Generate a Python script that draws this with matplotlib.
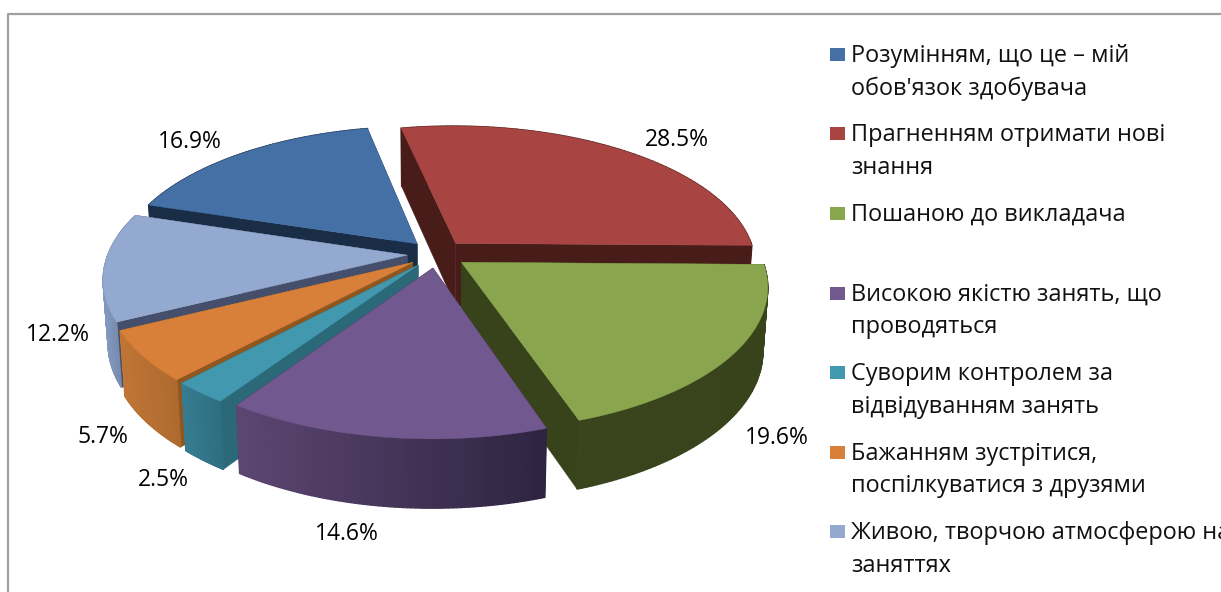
import matplotlib
matplotlib.use("Agg")
import matplotlib.pyplot as plt
import numpy as np
from matplotlib.colors import to_rgb

# Shares in chart order, clockwise from the first slice.
categories = [
    "Розумінням, що це – мій\nобов'язок здобувача",
    "Прагненням отримати нові\nзнання",
    "Пошаною до викладача",
    "Високою якістю занять, що\nпроводяться",
    "Суворим контролем за\nвідвідуванням занять",
    "Бажанням зустрітися,\nпоспілкуватися з друзями",
    "Живою, творчою атмосферою на\nзаняттях",
]
values = [16.9, 28.5, 19.6, 14.6, 2.5, 5.7, 12.2]

top_colors = ["#4470A6", "#A84543", "#89A54E", "#71588F", "#4198AF", "#D88039", "#93A9CF"]
# Outer wall colours, left end and right end of the gradient.
rim_colors = [("#1A2D47", "#1A2D47"), ("#471C19", "#471C19"), ("#3A451E", "#38431C"),
              ("#5C4672", "#2E2440"), ("#367C90", "#2E6E80"), ("#BF7535", "#AE6A2E"),
              ("#8298BC", "#66789A")]
cut_colors = ["#1A2D47", "#471C19", "#38431C", "#2E2440", "#2B6878", "#8E5722", "#454F6B"]

label_pos = [(190, 142), (677, 140), (777, 438), (347, 534), (163, 480), (103, 437), (58, 335)]
legend_y = [56, 135, 215, 295, 374, 454, 533]
legend_h = [33, 33, 0, 32, 33, 32, 33]

# Pixel-like geometry of the fake 3D pie.
X0, Y0 = 437, 254
RX, RY = 299, 139
PERSP = 0.158
DEPTH = 63
EXPLODE = 0.1
START = 287.4

plt.rcParams["font.family"] = ["Open Sans", "DejaVu Sans"]


def project(u, v):
    # Disc coordinates to screen, nearer points come out larger.
    s = 1 / (1 + PERSP * v)
    return X0 + RX * u * s, Y0 - RY * v * s, s


def lower(x, y, s):
    # Same point on the bottom face of the slice.
    return X0 + (x - X0) * 0.985, y + DEPTH * np.sqrt(s)


def blend(c1, c2, t):
    a, b = np.array(to_rgb(c1)), np.array(to_rgb(c2))
    return tuple(a + (b - a) * t)


fig = plt.figure(figsize=(12.21, 5.92), dpi=100)
ax = fig.add_axes([0, 0, 1, 1])
ax.set_xlim(0, 1221)
ax.set_ylim(592, 0)
ax.axis("off")

# Chart frame, only the top and left edges are in view.
ax.plot([8, 8, 1221], [592, 14, 14], color="#A0A0A0", lw=1.6, zorder=1)

# Turn shares into clockwise angles from the top.
edges = START + np.concatenate([[0], np.cumsum(values)]) / np.sum(values) * 360
slices = []
for i in range(len(values)):
    a0, a1 = np.radians(edges[i]), np.radians(edges[i + 1])
    mid = (a0 + a1) / 2
    slices.append((np.cos(mid), i, a0, a1, mid))

# Painter's order, back slices first.
for order, (_, i, a0, a1, mid) in enumerate(sorted(slices, key=lambda t: -t[0])):
    z = 2 + order * 0.1
    ou, ov = EXPLODE * np.sin(mid), EXPLODE * np.cos(mid)
    ang = np.linspace(a0, a1, 80)
    pts = [project(ou + np.sin(a), ov + np.cos(a)) for a in ang]
    apex = project(ou, ov)

    # Two cut faces from the apex out to the rim.
    for p in (pts[0], pts[-1]):
        quad_x = [apex[0], p[0], lower(*p)[0], lower(*apex)[0]]
        quad_y = [apex[1], p[1], lower(*p)[1], lower(*apex)[1]]
        ax.fill(quad_x, quad_y, color=cut_colors[i], lw=0.3, zorder=z)

    # Outer wall, split into strips for the gradient.
    xs = [p[0] for p in pts]
    for k in range(len(pts) - 1):
        p, q = pts[k], pts[k + 1]
        t = ((p[0] + q[0]) / 2 - min(xs)) / (max(xs) - min(xs))
        col = blend(rim_colors[i][0], rim_colors[i][1], t)
        ax.fill([p[0], q[0], lower(*q)[0], lower(*p)[0]],
                [p[1], q[1], lower(*q)[1], lower(*p)[1]],
                color=col, lw=1.0, zorder=z + 0.01)

    # Top face last.
    ax.fill([apex[0]] + xs, [apex[1]] + [p[1] for p in pts],
            color=top_colors[i], lw=0.3, zorder=z + 0.02)

    ax.text(label_pos[i][0], label_pos[i][1], f"{values[i]:.1f}%", fontsize=16.5,
            ha="center", va="center", color="black", zorder=10)

# Legend, placed by hand like the original.
for i, name in enumerate(categories):
    ax.fill([830, 845, 845, 830],
            [legend_y[i] - 8, legend_y[i] - 8, legend_y[i] + 5, legend_y[i] + 5],
            color=top_colors[i], lw=0, zorder=5)
    for j, line in enumerate(name.split("\n")):
        ax.text(851, legend_y[i] + j * legend_h[i], line, fontsize=16.9,
                ha="left", va="center", color="#111111", zorder=10)

fig.savefig("out.png", dpi=100)
plt.close(fig)
